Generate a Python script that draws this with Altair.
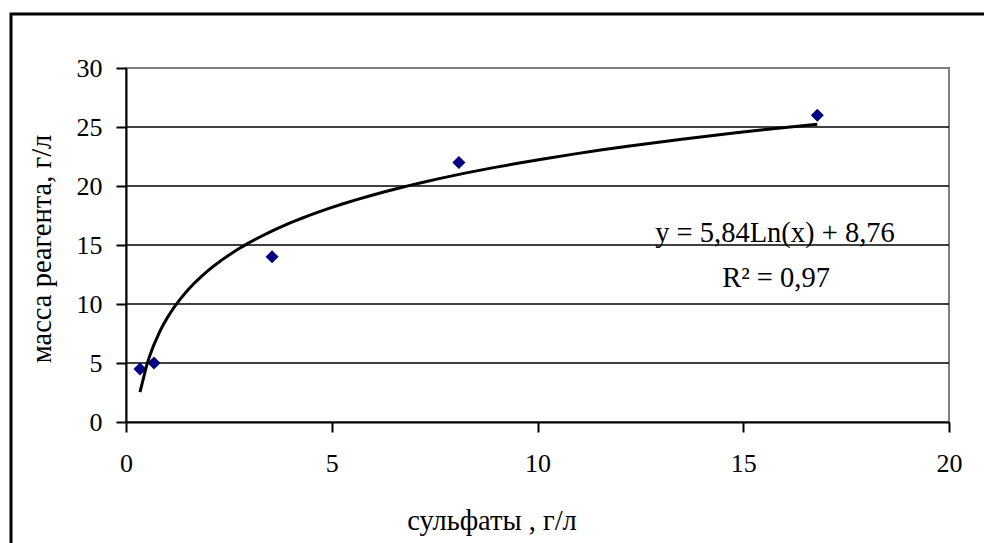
import altair as alt
import pandas as pd

# ---- data ----
sulfates = [0.34, 0.68, 3.55, 8.09, 16.8]
reagent = [4.5, 5.0, 14.0, 22.0, 26.0]
x_ticks = [0, 5, 10, 15, 20]
y_ticks = [0, 5, 10, 15, 20, 25, 30]
grid_values = [5, 10, 15, 20, 25]
equation_text = ["y = 5,84Ln(x) + 8,76"]
r2_text = ["R² = 0,97"]
x_title = ["сульфаты , г/л"]
y_title = ["масса реагента, г/л"]

df = pd.DataFrame({"x": sulfates, "y": reagent})
grid_df = pd.DataFrame({"g": grid_values})
one = pd.DataFrame({"a": [0]})

FONT = "Liberation Serif"
FS = 26
FS_T = 28.5
W, H = 823, 354

xs = alt.Scale(domain=[0, 20], nice=False, zero=False)
ys = alt.Scale(domain=[0, 30], nice=False)

y_axis = alt.Axis(values=y_ticks, labelPadding=14, format="d")
x_axis = alt.Axis(values=x_ticks, labelPadding=18, format="d")

frame = alt.Chart(one).mark_rect(fillOpacity=0, stroke="black", strokeWidth=3).encode(
    x=alt.value(-115), x2=alt.value(W + 80), y=alt.value(-54), y2=alt.value(H + 150)
)

grid = alt.Chart(grid_df).mark_rule(color="black", strokeWidth=1.5).encode(
    y=alt.Y("g:Q", scale=ys, title=None, axis=y_axis)
)

points = alt.Chart(df).mark_point(
    shape="diamond", filled=True, color="#000080", size=170, opacity=1
).encode(
    x=alt.X("x:Q", scale=xs, title=None, axis=x_axis),
    y=alt.Y("y:Q", scale=ys, title=None, axis=y_axis),
)

trend = alt.Chart(df).transform_regression(
    "x", "y", method="log"
).mark_line(color="black", strokeWidth=3).encode(
    x=alt.X("x:Q", scale=xs, title=None, axis=x_axis),
    y=alt.Y("y:Q", scale=ys, title=None, axis=y_axis),
)

eq = alt.Chart(pd.DataFrame({"t": equation_text})).mark_text(
    font=FONT, fontSize=FS_T, color="black", align="center", baseline="alphabetic"
).encode(text="t:N", x=alt.value(649), y=alt.value(174))

r2 = alt.Chart(pd.DataFrame({"t": r2_text})).mark_text(
    font=FONT, fontSize=FS_T, color="black", align="center", baseline="alphabetic"
).encode(text="t:N", x=alt.value(650), y=alt.value(219))

xt = alt.Chart(pd.DataFrame({"t": x_title})).mark_text(
    font=FONT, fontSize=FS_T, color="black", align="center", baseline="alphabetic"
).encode(text="t:N", x=alt.value(366), y=alt.value(462))

yt = alt.Chart(pd.DataFrame({"t": y_title})).mark_text(
    font=FONT, fontSize=FS_T, color="black", align="center", baseline="middle", angle=270
).encode(text="t:N", x=alt.value(-84), y=alt.value(181))

chart = alt.layer(frame, grid, points, trend, eq, r2, xt, yt).properties(
    width=W, height=H,
    autosize=alt.AutoSizeParams(type="none"),
    padding={"left": 126, "top": 68, "right": 35, "bottom": 121},
    background="white",
).configure_view(
    stroke="#808080", strokeWidth=2
).configure_axis(
    labelFont=FONT, labelFontSize=FS, labelColor="black",
    domainColor="black", domainWidth=2,
    tickColor="black", tickWidth=2, tickSize=10,
    grid=False, labelFlush=False,
)

chart.save("out.html", embed_options={"renderer": "svg", "actions": False})
